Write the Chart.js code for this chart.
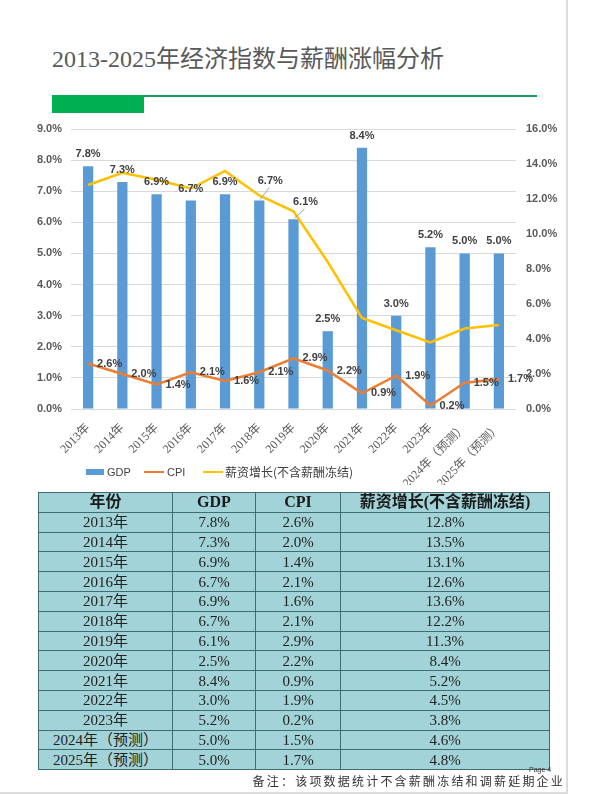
<!DOCTYPE html>
<html>
<head>
<meta charset="utf-8">
<script src="https://cdn.jsdelivr.net/npm/chart.js@4.4.1/dist/chart.umd.min.js"></script>
<style>
  html, body { margin:0; padding:0; background:#fff; }
  body { width:596px; height:795px; position:relative; overflow:hidden; font-family:'Liberation Serif','Noto Sans CJK SC',serif; }
  #title { position:absolute; left:52px; top:47px; font-size:24px; line-height:24px; color:#595959; white-space:nowrap; }
  #gline { position:absolute; left:52px; top:95px; width:485px; height:2px; background:#14A05A; }
  #gblock { position:absolute; left:52px; top:95px; width:92px; height:18px; background:#00B050; }
  #chartwrap { position:absolute; left:0; top:110px; width:567px; height:375px; }
  #legend { position:absolute; left:86px; top:464px; height:16px; font-family:'Liberation Sans','Noto Sans CJK SC',sans-serif; font-size:11px; color:#404040; white-space:nowrap; }
  #legend span { position:absolute; top:0; line-height:16px; }
  #legend i { position:absolute; display:block; }
  #tbl { position:absolute; left:38px; top:492px; border-collapse:collapse; background:#A2D3D8; table-layout:fixed; }
  #tbl td, #tbl th { border:1px solid #3E6E72; padding:0; height:18.8px; line-height:18px; text-align:center; color:#222; font-size:15px; font-weight:normal; white-space:nowrap; overflow:hidden; }
  #tbl th { font-size:16px; font-weight:bold; color:#1a1a1a; }
  #note { position:absolute; right:31px; top:772px; font-size:12px; letter-spacing:2.2px; color:#333; white-space:nowrap; font-family:'Noto Sans CJK SC',sans-serif; }
  #page { position:absolute; left:529px; top:766px; font-size:7px; color:#333; font-family:'Liberation Sans',sans-serif; }
  #vb { position:absolute; left:566px; top:0; width:2px; height:793px; background:#dcdcdc; }
  #hb { position:absolute; left:0; top:792px; width:568px; height:2px; background:#dcdcdc; }
</style>
</head>
<body>
<div id="title">2013-2025年经济指数与薪酬涨幅分析</div>
<div id="gline"></div>
<div id="gblock"></div>
<div id="chartwrap"><canvas id="c" width="567" height="375"></canvas></div>
<div id="legend"></div>
<table id="tbl"></table>
<div id="page">Page 4</div>
<div id="note">备注：该项数据统计不含薪酬冻结和调薪延期企业</div>
<div id="vb"></div>
<div id="hb"></div>
<script>
// ---- data ----
const years = ['2013年','2014年','2015年','2016年','2017年','2018年','2019年','2020年','2021年','2022年','2023年','2024年（预测）','2025年（预测）'];
const gdp  = [7.8, 7.3, 6.9, 6.7, 6.9, 6.7, 6.1, 2.5, 8.4, 3.0, 5.2, 5.0, 5.0];
const cpi  = [2.6, 2.0, 1.4, 2.1, 1.6, 2.1, 2.9, 2.2, 0.9, 1.9, 0.2, 1.5, 1.7];
const wage = [12.8, 13.5, 13.1, 12.6, 13.6, 12.2, 11.3, 8.4, 5.2, 4.5, 3.8, 4.6, 4.8];
const seriesNames = ['GDP', 'CPI', '薪资增长(不含薪酬冻结)'];
const tableHeader = ['年份', 'GDP', 'CPI', '薪资增长(不含薪酬冻结)'];
const leftAxis  = { min: 0, max: 9,  step: 1 };
const rightAxis = { min: 0, max: 16, step: 2 };

// ---- styles ----
const colors = { gdp:'#5B9BD5', cpi:'#ED7D31', wage:'#FFC000' };
const pct = v => v.toFixed(1) + '%';
// label shifts (dx, extra dy) for GDP labels that Excel moved off the line, with leader lines
const gdpLabelMoves = { 5: [11, -8], 6: [12, -5] };

const labelPlugin = {
  id: 'labels',
  afterDatasetsDraw(chart) {
    const ctx = chart.ctx;
    ctx.save();
    ctx.font = 'bold 11px "Liberation Sans", sans-serif';
    ctx.fillStyle = '#404040';
    ctx.textBaseline = 'middle';
    // GDP labels
    const barMeta = chart.getDatasetMeta(0);
    barMeta.data.forEach((bar, i) => {
      let x = bar.x, y = bar.y - 12;
      const mv = gdpLabelMoves[i];
      if (mv) {
        x += mv[0]; y += mv[1];
        ctx.strokeStyle = '#A6A6A6';
        ctx.lineWidth = 1;
        ctx.beginPath();
        ctx.moveTo(bar.x + 1, bar.y - 1);
        ctx.lineTo(x - 1, y + 7);
        ctx.stroke();
      }
      ctx.textAlign = 'center';
      ctx.fillText(pct(gdp[i]), x, y);
    });
    // CPI labels
    const cpiMeta = chart.getDatasetMeta(1);
    cpiMeta.data.forEach((pt, i) => {
      ctx.textAlign = 'left';
      ctx.fillText(pct(cpi[i]), pt.x + 9, pt.y);
    });
    ctx.restore();
  }
};

const tickFont = { family: '"Liberation Sans", sans-serif', size: 11, weight: 'bold' };

new Chart(document.getElementById('c'), {
  type: 'bar',
  data: {
    labels: years,
    datasets: [
      { label: seriesNames[0], data: gdp, backgroundColor: colors.gdp, yAxisID: 'y', order: 3,
        barPercentage: 0.3, categoryPercentage: 1.0 },
      { type: 'line', label: seriesNames[1], data: cpi, borderColor: colors.cpi, borderWidth: 2.5,
        pointRadius: 0, tension: 0, yAxisID: 'y1', order: 1 },
      { type: 'line', label: seriesNames[2], data: wage, borderColor: colors.wage, borderWidth: 2.5,
        pointRadius: 0, tension: 0, yAxisID: 'y1', order: 2 }
    ]
  },
  options: {
    responsive: false,
    animation: false,
    devicePixelRatio: 1,
    layout: { padding: { top: 19, left: 0, right: 0, bottom: 0 } },
    plugins: { legend: { display: false }, tooltip: { enabled: false } },
    scales: {
      x: {
        grid: { display: false },
        border: { display: false },
        ticks: { autoSkip: false, maxRotation: 45, minRotation: 45, padding: 4,
                 color: '#595959', font: { family: '"Liberation Serif","Noto Sans CJK SC", serif', size: 12 } },
        afterFit(s) { s.height = 76; }
      },
      y: {
        position: 'left', min: leftAxis.min, max: leftAxis.max,
        grid: { color: '#D9D9D9', lineWidth: 1, drawTicks: false },
        border: { display: false },
        ticks: { stepSize: leftAxis.step, padding: 9, color: '#595959', font: tickFont, callback: v => pct(v) },
        afterFit(s) { s.width = 71; }
      },
      y1: {
        position: 'right', min: rightAxis.min, max: rightAxis.max,
        grid: { display: false, drawTicks: false },
        border: { display: false },
        ticks: { stepSize: rightAxis.step, padding: 10, color: '#595959', font: tickFont, callback: v => pct(v) },
        afterFit(s) { s.width = 51; }
      }
    }
  },
  plugins: [labelPlugin]
});

// ---- legend ----
const lg = document.getElementById('legend');
lg.innerHTML =
  '<i style="left:0;top:5px;width:18px;height:6px;background:' + colors.gdp + '"></i>' +
  '<span style="left:21px">' + seriesNames[0] + '</span>' +
  '<i style="left:58px;top:7px;width:20px;height:2px;background:' + colors.cpi + '"></i>' +
  '<span style="left:81px">' + seriesNames[1] + '</span>' +
  '<i style="left:117px;top:7px;width:20px;height:2px;background:' + colors.wage + '"></i>' +
  '<span style="left:139px;font-size:12px;font-family:\'Noto Sans CJK SC\',sans-serif">' + seriesNames[2] + '</span>';

// ---- table ----
const colW = [134, 83, 85, 209];
let html = '<colgroup>' + colW.map(w => '<col style="width:' + w + 'px">').join('') + '</colgroup>';
html += '<tr>' + tableHeader.map(h => '<th>' + h + '</th>').join('') + '</tr>';
years.forEach((y, i) => {
  html += '<tr><td>' + y + '</td><td>' + pct(gdp[i]) + '</td><td>' + pct(cpi[i]) + '</td><td>' + pct(wage[i]) + '</td></tr>';
});
const tbl = document.getElementById('tbl');
tbl.style.width = colW.reduce((a, b) => a + b, 0) + 'px';
tbl.innerHTML = html;
</script>
</body>
</html>
